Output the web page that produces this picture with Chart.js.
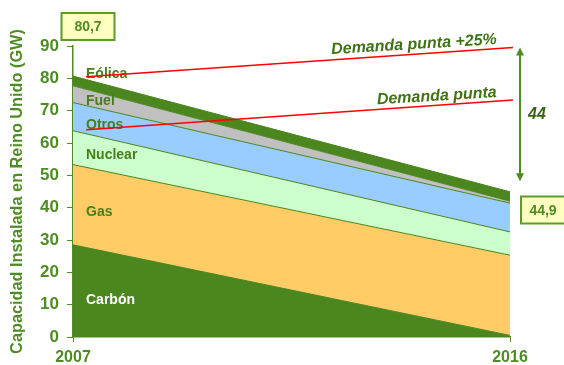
<!DOCTYPE html>
<html lang="es">
  <head>
    <meta charset="UTF-8" />
    <title>Capacidad instalada Reino Unido</title>
    <script src="https://cdn.jsdelivr.net/npm/chart.js"></script>
    <style>
      html, body { margin: 0; padding: 0; background: #fff; }
      #wrap { width: 564px; height: 365px; }
    </style>
  </head>
  <body>
    <div id="wrap"><canvas id="myChart" width="564" height="365"></canvas></div>

    <script>
      // data
      const years = [2007, 2016];
      const series = ["Carbón", "Gas", "Nuclear", "Otros", "Fuel", "Eólica"];
      const carbon = [28.5, 0.5];
      const gas = [24.8, 24.8];
      const nuclear = [10.5, 7.2];
      const otros = [8.7, 8.9];
      const fuel = [5.2, 0.6];
      const eolica = [3.0, 2.9];
      const demandYears = [2007.27, 2016.06];
      const demanda = [64.1, 73.3];
      const demanda25 = [80.5, 89.5];
      const yTicks = [0, 10, 20, 30, 40, 50, 60, 70, 80, 90];
      const gapLabel = "44";

      const GREEN = "#4e8c24";
      const DARK = "#4b861f";
      const TEXT = "#4a7d1c";

      const values = [carbon, gas, nuclear, otros, fuel, eolica];
      const fills = [DARK, "#ffcc66", "#ccffcc", "#99ccff", "#c0c0c0", DARK];
      const labelY = [11.4, 38.5, 56.2, 65.5, 72.8, 81.3];
      const labelColor = ["#ffffff", TEXT, TEXT, TEXT, TEXT, TEXT];

      const pts = (xs, ys) => xs.map((x, i) => ({ x: x, y: ys[i] }));
      const total = (i) => values.reduce((s, v) => s + v[i], 0);
      const fmt = (v) => v.toFixed(1).replace(".", ",");

      const areaSets = series.map((name, k) => ({
        label: name,
        data: pts(years, values[k]),
        backgroundColor: fills[k],
        borderColor: DARK,
        borderWidth: 1,
        pointRadius: 0,
        tension: 0,
        fill: k === 0 ? "origin" : "-1"
      }));

      const redLine = (ys, st) => ({
        label: st,
        data: pts(demandYears, ys),
        borderColor: "#ff0000",
        borderWidth: 1.5,
        pointRadius: 0,
        fill: false,
        stack: st,
        order: -1,
        clip: false
      });

      // labels, boxes, arrow
      const annotations = {
        id: "annotations",
        afterDatasetDraw(chart, args) {
          if (args.index !== 0) return;
          const ctx = chart.ctx;
          const x = chart.scales.x, y = chart.scales.y;
          ctx.save();
          ctx.font = "bold 14px 'Liberation Sans', Arial, sans-serif";
          ctx.textBaseline = "middle";
          ctx.textAlign = "left";
          series.forEach((name, k) => {
            ctx.fillStyle = labelColor[k];
            ctx.fillText(name, x.getPixelForValue(years[0]) + 13, y.getPixelForValue(labelY[k]));
          });
          ctx.restore();
        },
        afterDraw(chart) {
          const ctx = chart.ctx;
          const x = chart.scales.x, y = chart.scales.y;
          ctx.save();

          // demand captions
          ctx.fillStyle = "#3f7414";
          ctx.font = "italic bold 16px 'Liberation Sans', Arial, sans-serif";
          ctx.textAlign = "right";
          ctx.textBaseline = "alphabetic";
          [["Demanda punta +25%", 44], ["Demanda punta", 97]].forEach(([t, py]) => {
            ctx.save();
            ctx.translate(x.getPixelForValue(2016) - 13, py);
            ctx.rotate(-3.5 * Math.PI / 180);
            ctx.fillText(t, 0, 0);
            ctx.restore();
          });

          // double arrow
          const ax = x.right + 10;
          const top = y.getPixelForValue(demanda25[1]);
          const bot = y.getPixelForValue(total(1) + 3.3);
          ctx.strokeStyle = GREEN;
          ctx.fillStyle = GREEN;
          ctx.lineWidth = 2;
          ctx.beginPath();
          ctx.moveTo(ax, top + 6);
          ctx.lineTo(ax, bot - 6);
          ctx.stroke();
          ctx.beginPath();
          ctx.moveTo(ax, top); ctx.lineTo(ax - 4, top + 8); ctx.lineTo(ax + 4, top + 8); ctx.closePath();
          ctx.moveTo(ax, bot); ctx.lineTo(ax - 4, bot - 8); ctx.lineTo(ax + 4, bot - 8); ctx.closePath();
          ctx.fill();
          ctx.font = "italic bold 16px 'Liberation Sans', Arial, sans-serif";
          ctx.textAlign = "left";
          ctx.textBaseline = "middle";
          ctx.fillStyle = "#3a6614";
          ctx.fillText(gapLabel, ax + 8, (top + bot) / 2);

          // total boxes
          const box = (cx, cy, w, h, t) => {
            ctx.fillStyle = "#ffffbf";
            ctx.fillRect(cx - w / 2, cy - h / 2, w, h);
            ctx.strokeStyle = "#5e9a2e";
            ctx.lineWidth = 2;
            ctx.strokeRect(cx - w / 2, cy - h / 2, w, h);
            ctx.fillStyle = GREEN;
            ctx.font = "bold 14px 'Liberation Sans', Arial, sans-serif";
            ctx.textAlign = "center";
            ctx.textBaseline = "middle";
            ctx.fillText(t, cx, cy + 1);
          };
          box(x.getPixelForValue(years[0]) + 15, 26.5, 53, 27, fmt(total(0)));
          box(x.right + 33, 210, 44, 27, fmt(total(1)));
          ctx.restore();
        }
      };

      const config = {
        type: "line",
        data: {
          datasets: [...areaSets, redLine(demanda, "d1"), redLine(demanda25, "d2")]
        },
        options: {
          responsive: false,
          animation: false,
          layout: { padding: { left: 0, top: 46, right: 54, bottom: 0 } },
          plugins: { legend: { display: false }, tooltip: { enabled: false } },
          scales: {
            x: {
              type: "linear",
              min: years[0],
              max: years[1],
              afterBuildTicks: (s) => { s.ticks = years.map((v) => ({ value: v })); },
              afterFit: (s) => { s.height = 28; },
              grid: { drawOnChartArea: false, drawTicks: true, tickLength: 5, color: GREEN },
              border: { display: true, color: GREEN, width: 1.5 },
              ticks: {
                color: GREEN,
                padding: 6,
                font: { family: "'Liberation Sans', Arial", size: 16, weight: "bold" },
                callback: (v) => String(v)
              }
            },
            y: {
              stacked: true,
              min: 0,
              max: 90,
              afterBuildTicks: (s) => { s.ticks = yTicks.map((v) => ({ value: v })); },
              afterFit: (s) => { s.width = 73; },
              grid: { drawOnChartArea: false, drawTicks: true, tickLength: 6, color: GREEN },
              border: { display: true, color: GREEN, width: 1.5 },
              ticks: {
                color: GREEN,
                padding: 8,
                font: { family: "'Liberation Sans', Arial", size: 17, weight: "bold" }
              },
              title: {
                display: true,
                text: "Capacidad Instalada en Reino Unido (GW)",
                color: GREEN,
                padding: { top: 8, bottom: 0 },
                font: { family: "'Liberation Sans', Arial", size: 16.3, weight: "bold" }
              }
            }
          }
        },
        plugins: [annotations]
      };

      const myChart = new Chart(document.getElementById("myChart"), config);
    </script>
  </body>
</html>
